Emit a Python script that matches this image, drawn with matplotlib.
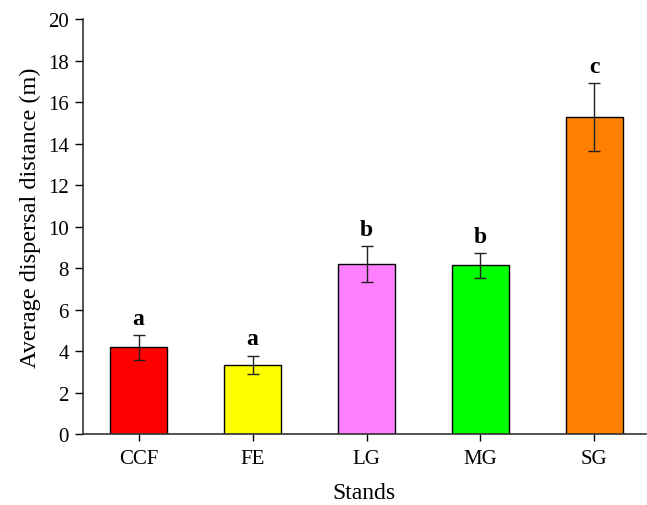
import matplotlib
matplotlib.use('Agg')
import matplotlib.pyplot as plt
import numpy as np

plt.rcParams['font.family'] = ['Liberation Serif', 'DejaVu Serif']

# Data
stands = ['CCF', 'FE', 'LG', 'MG', 'SG']
mean_dist = [4.18, 3.34, 8.19, 8.14, 15.29]
err_dist = [0.60, 0.45, 0.87, 0.60, 1.62]
letters = ['a', 'a', 'b', 'b', 'c']
bar_colors = ['#FF0000', '#FFFF00', '#FF80FF', '#00FF00', '#FF8000']

fig = plt.figure(figsize=(6.47, 5.06), dpi=100)
ax = fig.add_axes([0.128, 0.140, 0.870, 0.820])

x = np.arange(len(stands))
ax.bar(x, mean_dist, width=0.5, color=bar_colors, edgecolor='black', linewidth=1.0,
       yerr=err_dist, capsize=4.5, error_kw={'elinewidth': 1.0, 'capthick': 1.0, 'ecolor': '#222222'})

# Significance letters above the error bars
for xi, m, e, lab in zip(x, mean_dist, err_dist, letters):
    ax.text(xi, m + e + 0.3, lab, ha='center', va='bottom', fontsize=17, fontweight='bold')

ax.set_xlim(-0.49, 4.45)
ax.set_ylim(0, 20)
ax.set_yticks(np.arange(0, 21, 2))
ax.set_xticks(x)
ax.set_xticklabels(stands)

for side in ['top', 'right']:
    ax.spines[side].set_visible(False)
for side in ['left', 'bottom']:
    ax.spines[side].set_linewidth(1.2)
    ax.spines[side].set_color('#333333')

ax.tick_params(axis='y', direction='out', length=6, width=1.0, labelsize=15, pad=4)
ax.tick_params(axis='x', direction='out', length=5, width=1.0, labelsize=15, pad=6)

ax.set_ylabel('Average dispersal distance (m)', fontsize=17.5)
ax.yaxis.set_label_coords(-0.075, 0.525)
ax.set_xlabel('Stands', fontsize=17, labelpad=10)

fig.savefig('out.png', dpi=100, facecolor='white')
